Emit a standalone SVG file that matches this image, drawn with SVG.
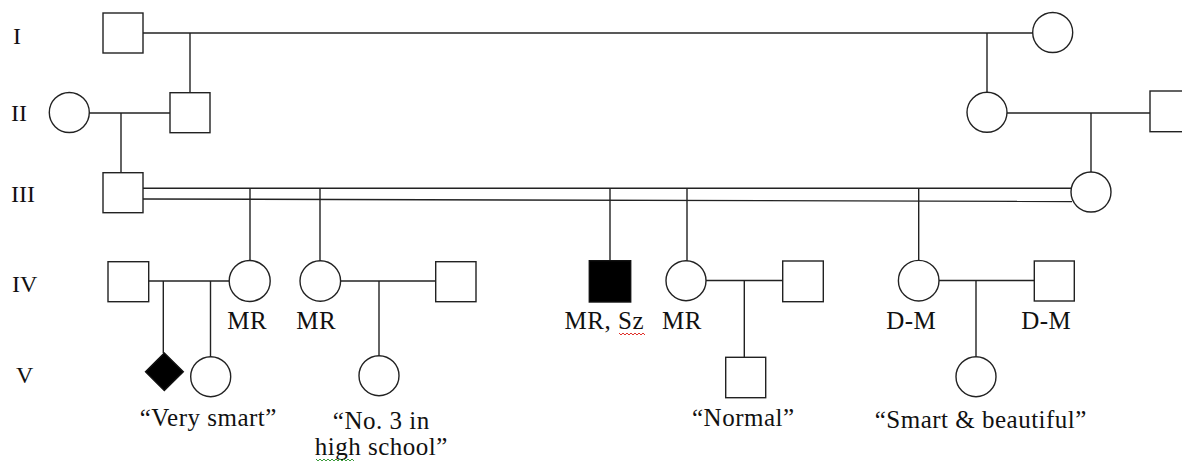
<svg xmlns="http://www.w3.org/2000/svg" width="1182" height="463" viewBox="0 0 1182 463">
<style>
.s{fill:#fff;stroke:#222;stroke-width:1.4}
.f{fill:#000;stroke:#111;stroke-width:1.4}
.c line,.c polyline{stroke:#222;stroke-width:1.4;fill:none}
text{font-family:"Liberation Serif","Times New Roman",serif;font-size:24px;fill:#111}
.m{text-anchor:middle;letter-spacing:0.5px;font-size:25px}
.sq{fill:none;stroke-width:1}
</style>
<rect width="1182" height="463" fill="#fff"/>
<g id="gen-labels">
<text x="13" y="44">I</text>
<text x="11" y="121">II</text>
<text x="11" y="202">III</text>
<text x="12" y="292">IV</text>
<text x="16" y="383">V</text>
</g>
<g id="connectors" class="c">
<line x1="143" y1="33" x2="1033" y2="33"/>
<line x1="190" y1="33" x2="190" y2="93"/>
<line x1="987" y1="33" x2="987" y2="92"/>
<line x1="89" y1="113" x2="170" y2="113"/>
<line x1="121" y1="113" x2="121" y2="173"/>
<line x1="1007" y1="113" x2="1150" y2="113"/>
<line x1="1091" y1="113" x2="1091" y2="172"/>
<line x1="143" y1="188.3" x2="1071.4" y2="188.3"/>
<line x1="143" y1="199" x2="1072" y2="201.5"/>
<line x1="250" y1="188.3" x2="250" y2="260"/>
<line x1="320" y1="188.3" x2="320" y2="261"/>
<line x1="610" y1="188.3" x2="610" y2="261"/>
<line x1="687" y1="188.3" x2="687" y2="261"/>
<line x1="918.7" y1="188.3" x2="918.7" y2="261"/>
<line x1="148.7" y1="281" x2="229" y2="281"/>
<line x1="163.3" y1="281" x2="163.3" y2="353"/>
<line x1="210.5" y1="281" x2="210.5" y2="357"/>
<line x1="340" y1="281" x2="435.7" y2="281"/>
<line x1="379" y1="281" x2="379" y2="356"/>
<line x1="706" y1="280.5" x2="782.7" y2="280.5"/>
<line x1="744.3" y1="280.5" x2="744.3" y2="357.3"/>
<line x1="938.7" y1="280.5" x2="1034.3" y2="280.5"/>
<line x1="976" y1="280.5" x2="976" y2="356.7"/>
</g>
<g id="I-1"><rect class="s" x="103" y="13" width="40" height="40"/></g>
<g id="I-2"><circle class="s" cx="1052.7" cy="32.5" r="20"/></g>
<g id="II-1"><circle class="s" cx="69.3" cy="112.5" r="20"/></g>
<g id="II-2"><rect class="s" x="170" y="92.7" width="40" height="40"/></g>
<g id="II-3"><circle class="s" cx="987" cy="112.3" r="20"/></g>
<g id="II-4"><rect class="s" x="1150" y="91" width="40" height="40.7"/></g>
<g id="III-1"><rect class="s" x="103" y="172.7" width="40" height="40"/></g>
<g id="III-2"><circle class="s" cx="1091" cy="192" r="20"/></g>
<g id="IV-1"><rect class="s" x="108" y="261.7" width="40.7" height="40"/></g>
<g id="IV-2"><circle class="s" cx="249.7" cy="281" r="20.5"/><text class="m" x="247.3" y="329">MR</text></g>
<g id="IV-3"><circle class="s" cx="320.3" cy="281" r="20.3"/><text class="m" x="316.3" y="329">MR</text></g>
<g id="IV-4"><rect class="s" x="435.7" y="261.7" width="40.3" height="40"/></g>
<g id="IV-5"><rect class="f" x="589.3" y="260.7" width="41.4" height="41.3"/><text class="m" x="604.3" y="329">MR, Sz</text>
<polyline class="sq" stroke="#e0312b" points="619,333 621,335 623,333 625,335 627,333 629,335 631,333 633,335 635,333 637,335 639,333 641,335 643,333 645,335"/></g>
<g id="IV-6"><circle class="s" cx="686" cy="280.7" r="20"/><text class="m" x="682" y="329">MR</text></g>
<g id="IV-7"><rect class="s" x="782.7" y="261" width="40.6" height="40.7"/></g>
<g id="IV-8"><circle class="s" cx="918.7" cy="280.7" r="20.3"/><text class="m" x="911.3" y="329">D-M</text></g>
<g id="IV-9"><rect class="s" x="1034.3" y="261" width="40" height="40"/><text class="m" x="1046.3" y="329">D-M</text></g>
<g id="V-1"><polygon class="f" points="164.3,353 183.3,371.7 164.3,390.5 145.5,371.7"/></g>
<g id="V-2"><circle class="s" cx="210.7" cy="376.7" r="20"/><text class="m" x="208.3" y="426">“Very smart”</text></g>
<g id="V-3"><circle class="s" cx="379" cy="375.7" r="20"/><text class="m" x="381.3" y="429">“No. 3 in</text><text class="m" x="381.3" y="455">high school”</text>
<polyline class="sq" stroke="#3a9a3a" points="316,459 318,461 320,459 322,461 324,459 326,461 328,459 330,461 332,459 334,461 336,459 338,461 340,459 342,461 344,459 346,461 348,459 350,461 352,459 354,461"/></g>
<g id="V-4"><rect class="s" x="725.7" y="357.3" width="40" height="40.4"/><text class="m" x="743.3" y="426">“Normal”</text></g>
<g id="V-5"><circle class="s" cx="976" cy="376.7" r="20"/><text class="m" x="980.8" y="428">“Smart &amp; beautiful”</text></g>
</svg>
